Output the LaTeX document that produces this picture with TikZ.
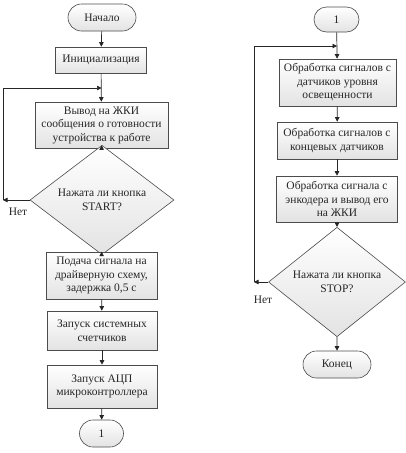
\documentclass[tikz,border=0pt]{standalone}
\usepackage{fontspec}
\setmainfont{Liberation Serif}
\usetikzlibrary{shapes.geometric,shapes.misc,arrows.meta}
\begin{document}
\begin{tikzpicture}[x=1pt,y=-1pt,
  font=\fontsize{11.5}{13.5}\selectfont,
  base/.style={draw=gray!60!black,line width=0.6pt,top color=white,bottom color=gray!22,
    inner sep=1pt,align=center,text=black!85},
  proc/.style={base,rectangle},
  term/.style={base,rounded rectangle},
  dec/.style={base,diamond,inner sep=0pt},
  conn/.style={draw=gray!30!black,line width=0.7pt},
  arr/.style={conn,-{Triangle[length=4.5pt,width=4.5pt]}}]
\useasboundingbox (0,0) rectangle (405,453);
% left column
\node[term,minimum width=70pt,minimum height=27pt] (start) at (102,17.5) {Начало};
\node[proc,minimum width=91pt,minimum height=26pt] (init) at (101,60) {Инициализация};
\node[proc,minimum width=133pt,minimum height=46pt] (disp) at (101.5,125) {Вывод на ЖКИ\\сообщения о готовности\\устройства к работе};
\node[dec,minimum width=144pt,minimum height=72pt] (d1) at (102,200) {Нажата ли кнопка\\START?};
\node[proc,minimum width=111pt,minimum height=47pt] (sig) at (101.5,275.5) {Подача сигнала на\\драйверную схему,\\задержка 0,5 с};
\node[proc,minimum width=110pt,minimum height=39pt] (cnt) at (102,330.5) {Запуск системных\\счетчиков};
\node[proc,minimum width=110pt,minimum height=43pt] (adc) at (102,386.5) {Запуск АЦП\\микроконтроллера};
\node[term,minimum width=46pt,minimum height=27pt] (c1) at (101.5,433.5) {1};
\coordinate (l1) at (3,200);
\coordinate (l2) at (3,88);
\coordinate (l3) at (101.5,88);
\node[text=black!85] (no1) at (18,212) {Нет};
\draw[arr] (start) -- (init);
\draw[arr] (init) -- (disp);
\draw[arr] (disp) -- (d1);
\draw[arr] (d1) -- (sig);
\draw[arr] (sig) -- (cnt);
\draw[arr] (cnt) -- (adc);
\draw[arr] (adc) -- (c1);
\draw[arr] (d1.west) -- (l1);
\draw[arr] (l1) -- (l2) -- (l3);
% right column
\node[term,minimum width=47pt,minimum height=25pt] (c2) at (336.5,19.5) {1};
\node[proc,minimum width=117pt,minimum height=47pt] (p1) at (337.5,82.5) {Обработка сигналов с\\датчиков уровня\\освещенности};
\node[proc,minimum width=120pt,minimum height=37pt] (p2) at (337,140.5) {Обработка сигналов с\\концевых датчиков};
\node[proc,minimum width=121pt,minimum height=46pt] (p3) at (337,199) {Обработка сигнала с\\энкодера и вывод его\\на ЖКИ};
\node[dec,minimum width=137pt,minimum height=83pt] (d2) at (337,282) {Нажата ли кнопка\\STOP?};
\node[term,minimum width=70pt,minimum height=27pt] (end) at (337,364.5) {Конец};
\coordinate (r1) at (254,282);
\coordinate (r2) at (254,46);
\coordinate (r3) at (337,46);
\node[text=black!85] (no2) at (263,300) {Нет};
\draw[arr] (c2) -- (p1);
\draw[arr] (p1) -- (p2);
\draw[arr] (p2) -- (p3);
\draw[arr] (p3) -- (d2);
\draw[arr] (d2) -- (end);
\draw[arr] (d2.west) -- (r1);
\draw[arr] (r1) -- (r2) -- (r3);
\end{tikzpicture}
\end{document}
